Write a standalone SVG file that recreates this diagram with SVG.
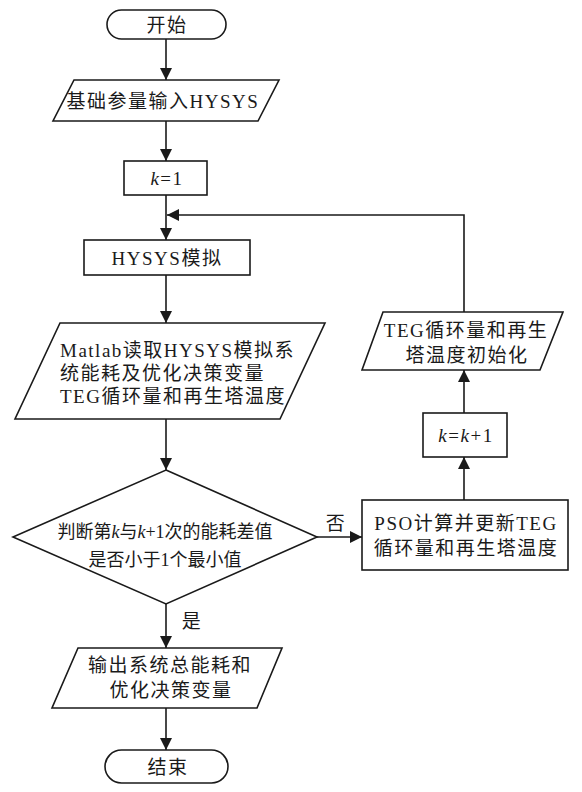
<svg xmlns="http://www.w3.org/2000/svg" width="582" height="792" viewBox="0 0 582 792">
<style>
.s{fill:#fff;stroke:#1a1a1a;stroke-width:1.6}
.c{fill:none;stroke:#1a1a1a;stroke-width:1.6}
text{font-family:"Liberation Serif","Noto Sans CJK SC",serif;font-size:19px;fill:#1a1a1a;letter-spacing:1.5px}
.m{text-anchor:middle}
.d{font-size:18px;letter-spacing:0}
.i{font-style:italic}
</style>
<defs>
<marker id="ah" markerUnits="userSpaceOnUse" markerWidth="12" markerHeight="12" refX="12" refY="6" orient="auto">
<path d="M0,0 L12,6 L0,12 z" fill="#1a1a1a"/>
</marker>
</defs>
<rect width="582" height="792" fill="#fff"/>
<g id="connectors">
<line class="c" x1="166" y1="39" x2="166" y2="80" marker-end="url(#ah)"/>
<line class="c" x1="166" y1="121" x2="166" y2="161" marker-end="url(#ah)"/>
<line class="c" x1="166" y1="195" x2="166" y2="240" marker-end="url(#ah)"/>
<polyline class="c" points="464,312 464,215 167,215" marker-end="url(#ah)"/>
<line class="c" x1="166" y1="275" x2="166" y2="323" marker-end="url(#ah)"/>
<line class="c" x1="166" y1="419" x2="166" y2="470" marker-end="url(#ah)"/>
<line class="c" x1="166" y1="604" x2="166" y2="648" marker-end="url(#ah)"/>
<line class="c" x1="166" y1="708" x2="166" y2="750" marker-end="url(#ah)"/>
<line class="c" x1="317" y1="537" x2="362" y2="537" marker-end="url(#ah)"/>
<line class="c" x1="464" y1="500" x2="464" y2="457" marker-end="url(#ah)"/>
<line class="c" x1="464" y1="413" x2="464" y2="370" marker-end="url(#ah)"/>
<text class="m" x="192" y="628">是</text>
<text class="m" x="336" y="530">否</text>
</g>
<g id="start">
<rect class="s" x="107" y="10" width="119" height="29" rx="14.5"/>
<text class="m" x="167" y="32">开始</text>
</g>
<g id="input">
<polygon class="s" points="74,80 279,80 258,121 53,121"/>
<text class="m" x="163" y="108">基础参量输入HYSYS</text>
</g>
<g id="k1">
<rect class="s" x="124" y="161" width="83" height="34"/>
<text class="m" x="167" y="185"><tspan class="i">k</tspan>=1</text>
</g>
<g id="hysys">
<rect class="s" x="84" y="240" width="166" height="35"/>
<text class="m" x="167" y="265">HYSYS模拟</text>
</g>
<g id="matlab">
<polygon class="s" points="60,323 325,323 280,419 15,419"/>
<text x="60" y="357">Matlab读取HYSYS模拟系</text>
<text x="60" y="380">统能耗及优化决策变量</text>
<text x="60" y="403">TEG循环量和再生塔温度</text>
</g>
<g id="decision">
<polygon class="s" points="166,470 317,537 166,604 13,537"/>
<text class="m d" x="165" y="538">判断第<tspan class="i">k</tspan>与<tspan class="i">k</tspan>+1次的能耗差值</text>
<text class="m d" x="165" y="566">是否小于1个最小值</text>
</g>
<g id="output">
<polygon class="s" points="78,648 282,648 257,708 52,708"/>
<text class="m" x="170" y="672">输出系统总能耗和</text>
<text class="m" x="171" y="697">优化决策变量</text>
</g>
<g id="end">
<rect class="s" x="105" y="750" width="123" height="33" rx="16.5"/>
<text class="m" x="168" y="774">结束</text>
</g>
<g id="pso">
<rect class="s" x="362" y="500" width="206" height="70"/>
<text class="m" x="466" y="530">PSO计算并更新TEG</text>
<text class="m" x="466" y="555">循环量和再生塔温度</text>
</g>
<g id="kinc">
<rect class="s" x="423" y="413" width="84" height="44"/>
<text class="m" x="466" y="442"><tspan class="i">k</tspan>=<tspan class="i">k</tspan>+1</text>
</g>
<g id="init">
<polygon class="s" points="383,312 563,312 540,370 362,370"/>
<text class="m" x="466" y="337">TEG循环量和再生</text>
<text class="m" x="467" y="362">塔温度初始化</text>
</g>
</svg>
